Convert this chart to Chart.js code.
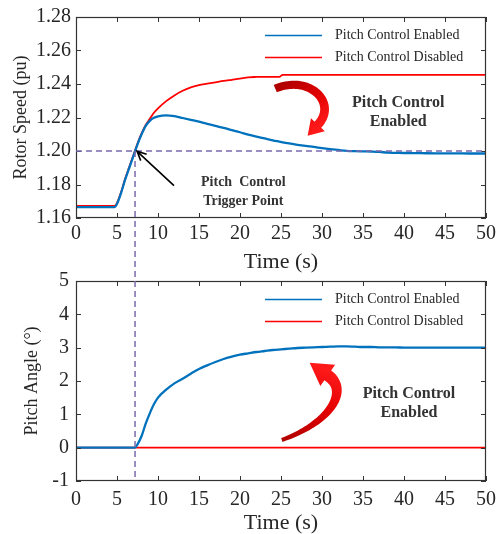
<!DOCTYPE html>
<html>
<head>
<meta charset="utf-8">
<script src="https://cdn.jsdelivr.net/npm/chart.js@4.4.0/dist/chart.umd.min.js"></script>
<style>
  html, body { margin: 0; padding: 0; background: #fff; }
  #wrap { position: relative; width: 503px; height: 534px; overflow: hidden; }
  canvas { position: absolute; left: 0; }
  #speedChart { top: 0; }
  #pitchChart { top: 262px; }
</style>
</head>
<body>
<div id="wrap">
  <canvas id="speedChart" width="503" height="280"></canvas>
  <canvas id="pitchChart" width="503" height="272"></canvas>
</div>
<script>
// ---- data ----
const seriesLabels = ['Pitch Control Enabled', 'Pitch Control Disabled'];
const timeTicks = [0, 5, 10, 15, 20, 25, 30, 35, 40, 45, 50];

// rotor speed (pu)
const speedTicks = [1.16, 1.18, 1.20, 1.22, 1.24, 1.26, 1.28];
const speedTime = [0, 4.7, 5, 5.5, 6, 6.5, 7, 7.5, 8, 8.5, 9, 9.5, 10,
  11, 12, 13, 14, 15, 16, 17, 18, 19, 20, 21, 22, 23, 24, 24.8, 25.2,
  26, 27, 28, 29, 30, 31, 32, 33, 34, 35, 36, 37, 38, 39, 40, 42, 44, 46, 48, 50];
const speedEnabled = [1.1665, 1.1665, 1.1685, 1.1750, 1.1830, 1.1900, 1.1970, 1.2040, 1.2100, 1.2150, 1.2180, 1.2198, 1.2207,
  1.2213, 1.2208, 1.2197, 1.2186, 1.2175, 1.2162, 1.2150, 1.2138, 1.2125, 1.2112, 1.2098, 1.2086, 1.2075, 1.2064, 1.2056, 1.2052,
  1.2045, 1.2037, 1.2030, 1.2024, 1.2017, 1.2011, 1.2006, 1.2001, 1.1999, 1.1998, 1.1997, 1.1995, 1.1990, 1.1989, 1.1988,
  1.1987, 1.1986, 1.1986, 1.1985, 1.1985];
const speedDisabled = [1.1672, 1.1672, 1.1690, 1.1755, 1.1835, 1.1905, 1.1975, 1.2045, 1.2105, 1.2155, 1.2192, 1.2228, 1.2255,
  1.2298, 1.2332, 1.2360, 1.2380, 1.2394, 1.2402, 1.2410, 1.2418, 1.2425, 1.2432, 1.2440, 1.2442, 1.2443, 1.2443, 1.2443, 1.2455,
  1.2455, 1.2455, 1.2455, 1.2455, 1.2455, 1.2455, 1.2455, 1.2455, 1.2455, 1.2455, 1.2455, 1.2455, 1.2455, 1.2455, 1.2455,
  1.2455, 1.2455, 1.2455, 1.2455, 1.2455];

// pitch angle (deg)
const pitchTicks = [-1, 0, 1, 2, 3, 4, 5];
const pitchTime = [0, 7.2, 7.5, 8, 8.5, 9, 9.5, 10,
  11, 12, 13, 14, 15, 16, 17, 18, 19, 20, 21, 22, 23, 24, 25, 26, 27, 28, 29, 30,
  31, 32, 33, 34, 35, 36, 37, 38, 39, 40, 42, 44, 46, 48, 50];
const pitchEnabled = [0, 0, 0.10, 0.35, 0.72, 1.03, 1.30, 1.50,
  1.74, 1.93, 2.07, 2.22, 2.36, 2.47, 2.57, 2.66, 2.73, 2.79, 2.83, 2.87, 2.90, 2.93, 2.95, 2.97, 2.99, 3.00, 3.01, 3.02,
  3.03, 3.04, 3.04, 3.03, 3.02, 3.02, 3.01, 3.01, 3.01, 3.00, 3.00, 3.00, 3.00, 3.00, 3.00];
const pitchDisabledTime = [0, 50];
const pitchDisabled = [0, 0];

// trigger point
const triggerTime = 7.2;
const triggerSpeed = 1.20;

const FONT = "'Liberation Serif', 'Times New Roman', serif";
const INK = '#262626';
const BLUE = '#0072BD';
const RED = '#FF0000';
const PURPLE = '#7B6AAE';
const CANVAS_GAP = 262;   // page y of the pitch canvas
const SPLIT = 271;        // page y where the dashed trigger line changes canvas

function pairs(xs, ys) {
  return xs.map((t, i) => ({ x: t, y: ys[i] }));
}

function makeDatasets(enabled, disabled) {
  return [
    { label: seriesLabels[0], data: enabled, borderColor: BLUE, borderWidth: 2.3 },
    { label: seriesLabels[1], data: disabled, borderColor: RED, borderWidth: 1.8 }
  ].map(d => Object.assign(d, { pointRadius: 0, fill: false, cubicInterpolationMode: 'monotone' }));
}

function makeOptions(cfg) {
  return {
    responsive: false,
    animation: false,
    layout: { padding: { top: cfg.padTop, right: 17, left: 0, bottom: 0 } },
    plugins: { legend: { display: false }, tooltip: { enabled: false } },
    scales: {
      x: {
        type: 'linear', min: 0, max: 50,
        afterBuildTicks: s => { s.ticks = timeTicks.map(v => ({ value: v })); },
        afterFit: s => { s.height = cfg.xHeight; },
        grid: { display: false, drawTicks: false },
        border: { display: false },
        ticks: { font: { family: FONT, size: 20 }, color: INK, padding: cfg.xTickPad, maxRotation: 0 },
        title: { display: true, text: 'Time (s)', color: INK,
                 font: { family: FONT, size: 22, lineHeight: 1 }, padding: { top: 0, bottom: cfg.xTitlePad } }
      },
      y: {
        type: 'linear', min: cfg.yTicks[0], max: cfg.yTicks[cfg.yTicks.length - 1],
        afterBuildTicks: s => { s.ticks = cfg.yTicks.map(v => ({ value: v })); },
        afterFit: s => { s.width = 76; },
        grid: { display: false, drawTicks: false },
        border: { display: false },
        ticks: { font: { family: FONT, size: 20 }, color: INK, padding: cfg.yTickPad,
                 callback: v => cfg.fmt(v) },
        title: { display: true, text: cfg.yTitle, color: INK,
                 font: { family: FONT, size: 18 }, padding: { top: cfg.yTitlePad, bottom: 0 } }
      }
    }
  };
}

// box frame with inward ticks on all four sides
const frameTicks = {
  id: 'frameTicks',
  afterDatasetsDraw(chart) {
    const { ctx, chartArea: a, scales: { x, y } } = chart;
    ctx.save();
    ctx.strokeStyle = '#333';
    ctx.lineWidth = 1;
    ctx.beginPath();
    x.ticks.forEach(t => {
      const px = Math.round(x.getPixelForValue(t.value)) + 0.5;
      ctx.moveTo(px, a.bottom); ctx.lineTo(px, a.bottom - 5);
      ctx.moveTo(px, a.top); ctx.lineTo(px, a.top + 5);
    });
    y.ticks.forEach(t => {
      const py = Math.round(y.getPixelForValue(t.value)) + 0.5;
      ctx.moveTo(a.left, py); ctx.lineTo(a.left + 5, py);
      ctx.moveTo(a.right, py); ctx.lineTo(a.right - 5, py);
    });
    ctx.stroke();
    ctx.lineWidth = 1.2;
    ctx.strokeRect(Math.round(a.left) + 0.5, Math.round(a.top) + 0.5,
                   Math.round(a.width) - 1, Math.round(a.height) - 1);
    ctx.restore();
  }
};

// legend drawn inside the plot, top right
const boxLegend = {
  id: 'boxLegend',
  afterDraw(chart) {
    const { ctx, chartArea: a } = chart;
    ctx.save();
    ctx.font = `14px ${FONT}`;
    ctx.textBaseline = 'middle';
    ctx.fillStyle = INK;
    chart.data.datasets.forEach((d, i) => {
      const yy = a.top + 18.5 + i * 22;
      ctx.strokeStyle = d.borderColor;
      ctx.lineWidth = 1.5;
      ctx.beginPath();
      ctx.moveTo(a.right - 221, yy); ctx.lineTo(a.right - 164, yy);
      ctx.stroke();
      ctx.fillText(d.label, a.right - 151, yy);
    });
    ctx.restore();
  }
};

// thick tapered curved arrow along a cubic bezier
function drawCurvedArrow(ctx, p0, c1, c2, p1, w0, w1, headLen, headW) {
  const N = 48, left = [], right = [];
  for (let i = 0; i <= N; i++) {
    const t = i / N, u = 1 - t;
    const px = u * u * u * p0.x + 3 * u * u * t * c1.x + 3 * u * t * t * c2.x + t * t * t * p1.x;
    const py = u * u * u * p0.y + 3 * u * u * t * c1.y + 3 * u * t * t * c2.y + t * t * t * p1.y;
    let dx = 3 * u * u * (c1.x - p0.x) + 6 * u * t * (c2.x - c1.x) + 3 * t * t * (p1.x - c2.x);
    let dy = 3 * u * u * (c1.y - p0.y) + 6 * u * t * (c2.y - c1.y) + 3 * t * t * (p1.y - c2.y);
    const len = Math.hypot(dx, dy) || 1; dx /= len; dy /= len;
    const hw = (w0 + (w1 - w0) * t) / 2;
    left.push([px - dy * hw, py + dx * hw]);
    right.push([px + dy * hw, py - dx * hw]);
  }
  let ex = p1.x - c2.x, ey = p1.y - c2.y;
  const el = Math.hypot(ex, ey); ex /= el; ey /= el;
  const tip = [p1.x + ex * headLen, p1.y + ey * headLen];
  const g = ctx.createLinearGradient(p0.x, p0.y, tip[0], tip[1]);
  g.addColorStop(0, '#b00000');
  g.addColorStop(0.5, '#e00000');
  g.addColorStop(1, '#ff1a1a');
  ctx.beginPath();
  ctx.moveTo(left[0][0], left[0][1]);
  left.forEach(p => ctx.lineTo(p[0], p[1]));
  ctx.lineTo(p1.x - ey * headW / 2, p1.y + ex * headW / 2);
  ctx.lineTo(tip[0], tip[1]);
  ctx.lineTo(p1.x + ey * headW / 2, p1.y - ex * headW / 2);
  for (let i = right.length - 1; i >= 0; i--) ctx.lineTo(right[i][0], right[i][1]);
  ctx.closePath();
  ctx.fillStyle = g;
  ctx.fill();
}

function pt(chart, x, y) {
  return { x: chart.scales.x.getPixelForValue(x), y: chart.scales.y.getPixelForValue(y) };
}

function boldText(ctx, lines, p, size) {
  ctx.save();
  ctx.font = `bold ${size}px ${FONT}`;
  ctx.fillStyle = '#333';
  ctx.textAlign = 'center';
  ctx.textBaseline = 'middle';
  lines.forEach((s, i) => ctx.fillText(s, p.x, p.y + i * 19));
  ctx.restore();
}

function dashed(ctx) {
  ctx.strokeStyle = PURPLE;
  ctx.lineWidth = 1.5;
  ctx.setLineDash([6, 4]);
}

const speedNotes = {
  id: 'speedNotes',
  afterDatasetsDraw(chart) {
    const { ctx, chartArea: a } = chart;
    const trig = pt(chart, triggerTime, triggerSpeed);
    ctx.save();
    dashed(ctx);
    ctx.beginPath();
    ctx.moveTo(a.left, trig.y); ctx.lineTo(a.right, trig.y);
    ctx.moveTo(trig.x, trig.y); ctx.lineTo(trig.x, SPLIT);
    ctx.stroke();
    ctx.restore();

    // black arrow to the trigger point
    const tail = pt(chart, 11.95, 1.1793);
    const tip = pt(chart, 7.45, 1.1998);
    const ang = Math.atan2(tip.y - tail.y, tip.x - tail.x);
    ctx.save();
    ctx.strokeStyle = '#000';
    ctx.lineWidth = 1.6;
    ctx.beginPath();
    ctx.moveTo(tail.x, tail.y); ctx.lineTo(tip.x, tip.y);
    ctx.moveTo(tip.x - 10 * Math.cos(ang - 0.45), tip.y - 10 * Math.sin(ang - 0.45));
    ctx.lineTo(tip.x, tip.y);
    ctx.lineTo(tip.x - 10 * Math.cos(ang + 0.45), tip.y - 10 * Math.sin(ang + 0.45));
    ctx.stroke();
    ctx.restore();

    drawCurvedArrow(ctx, pt(chart, 24.3, 1.2372), pt(chart, 28.5, 1.2459), pt(chart, 31.95, 1.2285),
                    pt(chart, 29.5, 1.2157), 8, 9, 15, 19);
    boldText(ctx, ['Pitch Control', 'Enabled'], pt(chart, 39.3, 1.2285), 16);
    boldText(ctx, ['Pitch  Control', 'Trigger Point'], pt(chart, 20.4, 1.1810), 14);
  }
};

const pitchNotes = {
  id: 'pitchNotes',
  afterDatasetsDraw(chart) {
    const { ctx, chartArea: a } = chart;
    const trig = pt(chart, triggerTime, 0);
    ctx.save();
    dashed(ctx);
    ctx.beginPath();
    ctx.moveTo(trig.x, SPLIT - CANVAS_GAP); ctx.lineTo(trig.x, a.bottom);
    ctx.stroke();
    ctx.restore();

    drawCurvedArrow(ctx, pt(chart, 25.1, 0.23), pt(chart, 31.0, 0.75), pt(chart, 33.4, 1.71),
                    pt(chart, 30.7, 2.17), 4, 12, 22, 26);
    boldText(ctx, ['Pitch Control', 'Enabled'], pt(chart, 40.6, 1.62), 16);
  }
};

new Chart(document.getElementById('speedChart'), {
  type: 'line',
  data: { datasets: makeDatasets(pairs(speedTime, speedEnabled), pairs(speedTime, speedDisabled)) },
  options: makeOptions({ padTop: 11, xHeight: 62, xTickPad: 4, xTitlePad: 7,
    yTicks: speedTicks, yTitle: 'Rotor Speed (pu)', yTickPad: 5, yTitlePad: 10, fmt: v => v.toFixed(2) }),
  plugins: [frameTicks, speedNotes, boxLegend]
});

new Chart(document.getElementById('pitchChart'), {
  type: 'line',
  data: { datasets: makeDatasets(pairs(pitchTime, pitchEnabled), pairs(pitchDisabledTime, pitchDisabled)) },
  options: makeOptions({ padTop: 12, xHeight: 53, xTickPad: 7, xTitlePad: 0,
    yTicks: pitchTicks, yTitle: 'Pitch Angle (°)', yTickPad: 7, yTitlePad: 21, fmt: v => String(v) }),
  plugins: [frameTicks, pitchNotes, boxLegend]
});
</script>
</body>
</html>
